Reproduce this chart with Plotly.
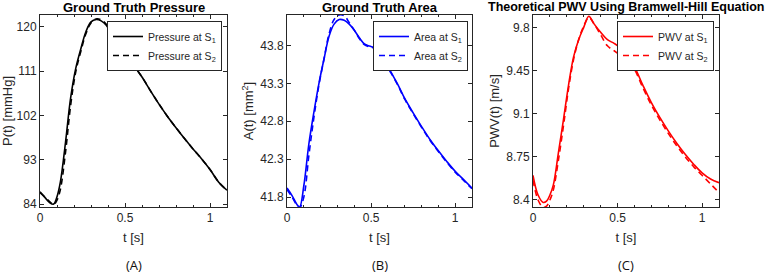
import plotly.graph_objects as go

# ---------------- data ----------------
t_p1 = [0.00, 0.03, 0.06, 0.08, 0.10, 0.12, 0.15, 0.18, 0.21, 0.24, 0.27, 0.30, 0.33, 0.36, 0.39, 0.42,
        0.45, 0.48, 0.51, 0.55, 0.60, 0.65, 0.70, 0.75, 0.80, 0.85, 0.90, 0.95, 1.00, 1.05, 1.10]
p_s1 = [86.5, 85.3, 84.2, 84.0, 85.5, 88.5, 96.5, 105.5, 111.5, 115.5, 119.0, 121.0, 121.5, 121.2, 120.3, 118.5,
        116.6, 115.0, 113.8, 112.2, 109.8, 107.0, 104.3, 101.8, 99.5, 97.3, 95.2, 93.2, 91.0, 88.5, 86.8]
p_s2 = [86.3, 85.4, 84.4, 83.9, 84.8, 87.0, 94.5, 104.0, 110.8, 115.0, 118.6, 120.8, 121.6, 121.4, 120.5, 118.8,
        116.8, 115.1, 113.8, 112.2, 109.8, 107.0, 104.3, 101.8, 99.5, 97.3, 95.2, 93.2, 91.0, 88.5, 86.8]

t_a = [0.00, 0.03, 0.06, 0.075, 0.10, 0.13, 0.16, 0.19, 0.22, 0.25, 0.28, 0.31, 0.34, 0.37, 0.40, 0.43,
       0.46, 0.49, 0.52, 0.55, 0.58, 0.62, 0.66, 0.70, 0.75, 0.80, 0.85, 0.90, 0.95, 1.00, 1.05, 1.10]
a_s1 = [41.92, 41.82, 41.70, 41.67, 41.95, 42.50, 42.92, 43.30, 43.62, 43.92, 44.08, 44.14, 44.13, 44.08, 44.00, 43.90,
        43.82, 43.79, 43.77, 43.72, 43.60, 43.44, 43.28, 43.10, 42.91, 42.73, 42.56, 42.41, 42.27, 42.14, 42.03, 41.92]
a_s2 = [41.90, 41.80, 41.69, 41.66, 41.80, 42.35, 42.85, 43.28, 43.62, 43.95, 44.14, 44.20, 44.19, 44.10, 44.00, 43.89,
        43.81, 43.78, 43.76, 43.70, 43.58, 43.43, 43.27, 43.09, 42.90, 42.72, 42.55, 42.40, 42.26, 42.13, 42.02, 41.91]

t_v = [0.00, 0.03, 0.06, 0.08, 0.10, 0.12, 0.15, 0.18, 0.21, 0.24, 0.27, 0.30, 0.33, 0.36, 0.40, 0.44,
       0.48, 0.52, 0.56, 0.60, 0.65, 0.70, 0.75, 0.80, 0.85, 0.90, 0.95, 1.00, 1.05, 1.10]
v_s1 = [8.60, 8.44, 8.38, 8.39, 8.44, 8.52, 8.78, 9.05, 9.33, 9.56, 9.70, 9.80, 9.89, 9.83, 9.76, 9.70,
        9.67, 9.63, 9.56, 9.48, 9.33, 9.19, 9.07, 8.96, 8.86, 8.77, 8.69, 8.62, 8.57, 8.54]
v_s2 = [8.56, 8.40, 8.34, 8.35, 8.40, 8.48, 8.72, 9.00, 9.30, 9.54, 9.70, 9.81, 9.88, 9.83, 9.74, 9.65,
        9.61, 9.57, 9.53, 9.46, 9.31, 9.17, 9.05, 8.94, 8.84, 8.75, 8.67, 8.60, 8.53, 8.46]

x_ticks = [0, 0.5, 1]
x_ticklabels = ["0", "0.5", "1"]
p_ticks = [84, 93, 102, 111, 120]
a_ticks = [41.8, 42.3, 42.8, 43.3, 43.8]
v_ticks = [8.4, 8.75, 9.1, 9.45, 9.8]

titles = ["Ground Truth Pressure", "Ground Truth Area", "Theoretical PWV Using Bramwell-Hill Equation"]
ylabels = ["P(t) [mmHg]", "A(t) [mm<sup>2</sup>]", "PWV(t) [m/s]"]
panel_labels = ["(A)", "(B)", "(C)"]

# ---------------- figure ----------------
W, H = 775, 273
FONT = "Liberation Sans, Arial, sans-serif"
TXT = "#262626"

fig = go.Figure()

panels = [
    (t_p1, p_s1, p_s2, "Pressure", "black", "legend"),
    (t_a, a_s1, a_s2, "Area", "#0000ff", "legend2"),
    (t_v, v_s1, v_s2, "PWV", "#ff0000", "legend3"),
]
for i, (tt, s1, s2, name, col, leg) in enumerate(panels):
    ax = "" if i == 0 else str(i + 1)
    fig.add_trace(go.Scatter(x=tt, y=s1, mode="lines", line=dict(color=col, width=1.6, shape="spline"),
                             name=f"{name} at S<sub>1</sub>", xaxis="x" + ax, yaxis="y" + ax, legend=leg))
    fig.add_trace(go.Scatter(x=tt, y=s2, mode="lines", line=dict(color=col, width=1.6, dash="6px,4px", shape="spline"),
                             name=f"{name} at S<sub>2</sub>", xaxis="x" + ax, yaxis="y" + ax, legend=leg))

xdoms = [[40 / W, 227 / W], [287 / W, 472 / W], [533 / W, 719 / W]]
ydom = [1 - 207 / H, 1 - 15 / H]
yranges = [[83.4, 122.4], [41.67, 44.2], [8.343, 9.9]]
yticks = [p_ticks, a_ticks, v_ticks]
legend_right = [222 / W, 468 / W, 714 / W]

common = dict(showline=True, linecolor=TXT, linewidth=1, mirror="allticks", ticks="inside", ticklen=4,
              tickcolor=TXT, tickfont=dict(family=FONT, size=12, color=TXT), showgrid=False, zeroline=False,
              automargin=False)

layout = dict(width=W, height=H, margin=dict(l=0, r=0, t=0, b=0, autoexpand=False), plot_bgcolor="white",
              paper_bgcolor="white", font=dict(family=FONT, color=TXT), showlegend=True)
for i in range(3):
    ax = "" if i == 0 else str(i + 1)
    layout["xaxis" + ax] = dict(domain=xdoms[i], range=[0, 1.1], anchor="y" + ax, tickvals=x_ticks,
                                ticktext=x_ticklabels,
                                minor=dict(ticks="inside", ticklen=2, dtick=0.1, tick0=0, tickcolor=TXT),
                                title=dict(text="t [s]", standoff=8,
                                           font=dict(family=FONT, size=13, color=TXT)),
                                **common)
    layout["yaxis" + ax] = dict(domain=ydom, range=yranges[i], anchor="x" + ax, tickvals=yticks[i],
                                title=dict(text=ylabels[i], standoff=3, font=dict(family=FONT, size=13, color=TXT)),
                                **common)
    lg = "legend" if i == 0 else "legend" + str(i + 1)
    layout[lg] = dict(x=legend_right[i], y=1 - 21 / H, xanchor="right", yanchor="top", bgcolor="white",
                      bordercolor=TXT, borderwidth=1, font=dict(family=FONT, size=10.5, color=TXT),
                      itemwidth=30, tracegroupgap=0)

fig.update_layout(**layout)

title_sizes = [13, 13, 12.5]
for i in range(3):
    ax = "x" if i == 0 else "x" + str(i + 1)
    fig.add_annotation(text=f"<b>{titles[i]}</b>", xref=ax + " domain", x=0.5, yref="paper", y=1 - 7 / H,
                       xanchor="center", yanchor="middle", showarrow=False,
                       font=dict(family=FONT, size=title_sizes[i], color="black"))
    fig.add_annotation(text=panel_labels[i], xref=ax + " domain", x=0.5, yref="paper", y=1 - 265 / H,
                       xanchor="center", yanchor="middle", showarrow=False,
                       font=dict(family="Open Sans, sans-serif", size=13, color="#111111"))

fig.write_html("out.html", config={"displayModeBar": False},
               post_script="document.body.style.margin='0';document.body.style.overflow='hidden';")
